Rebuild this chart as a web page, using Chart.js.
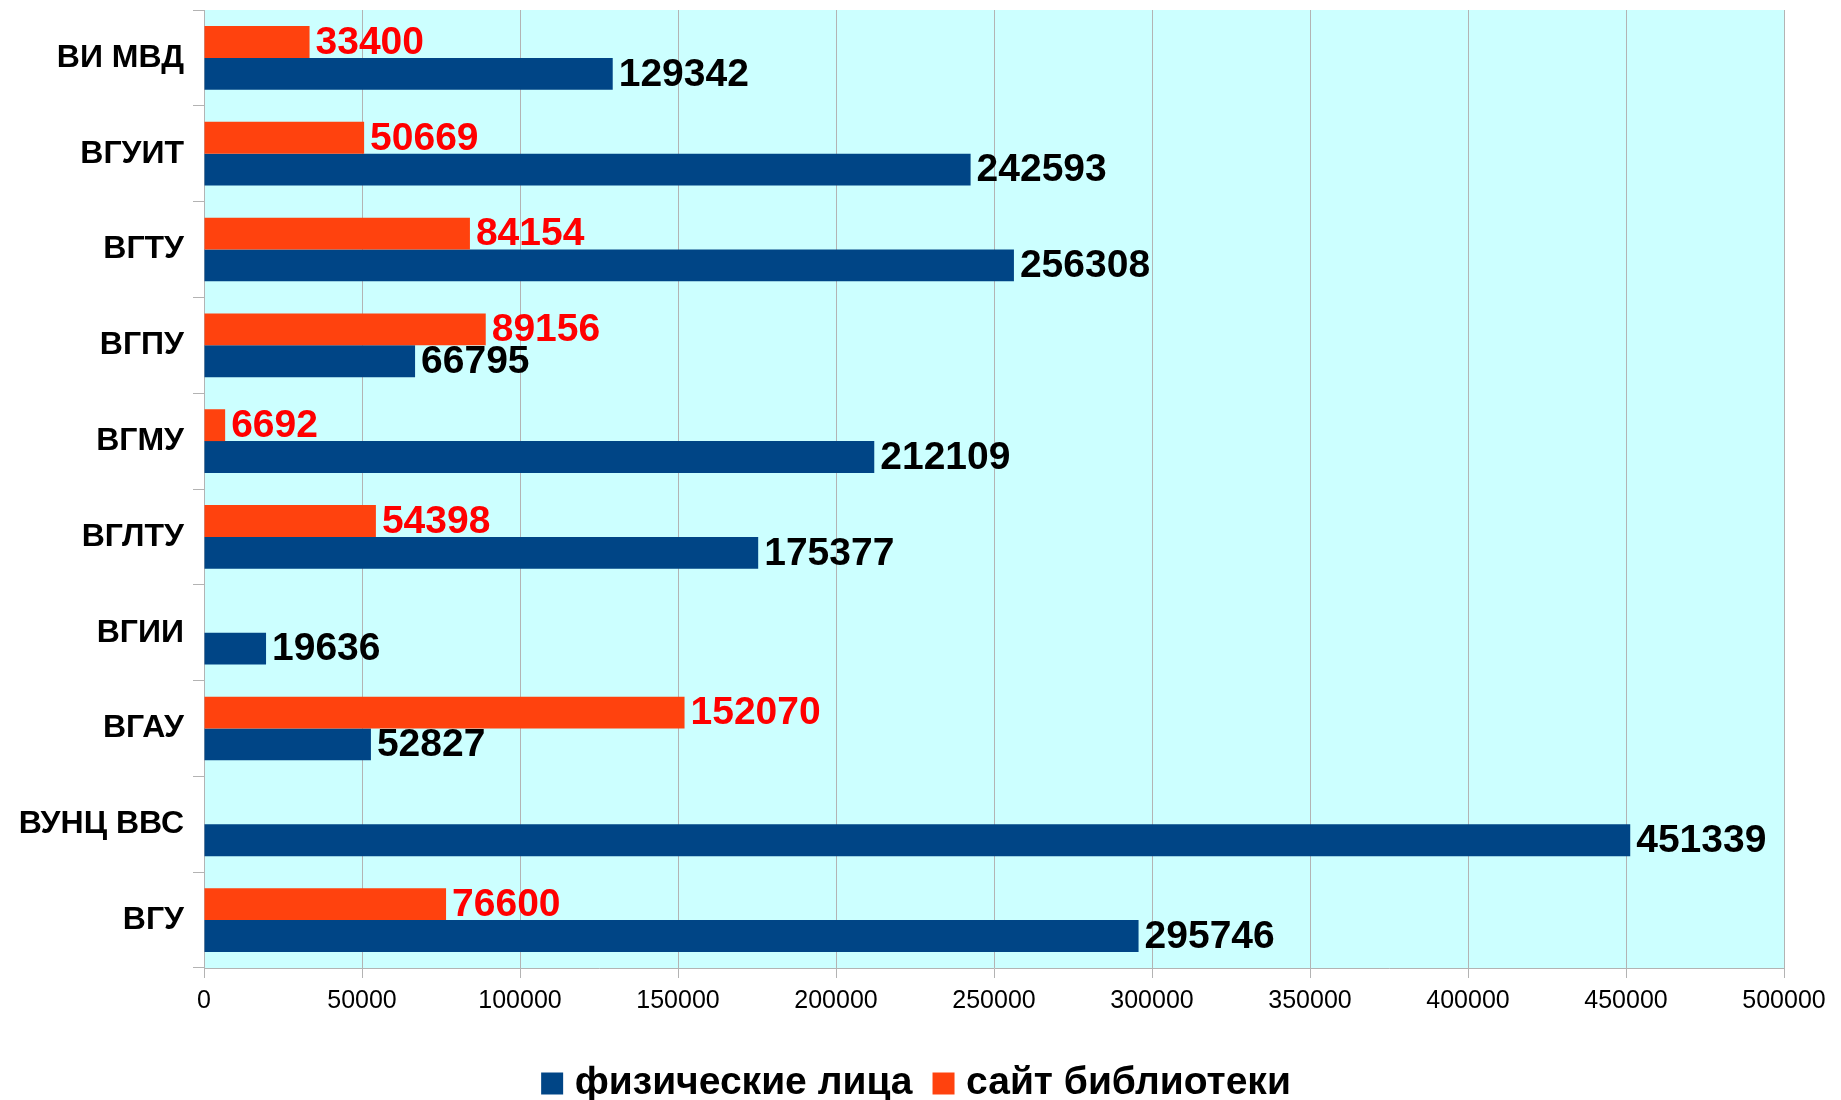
<!DOCTYPE html>
<html>
<head>
<meta charset="utf-8">
<script src="https://cdn.jsdelivr.net/npm/chart.js@4/dist/chart.umd.min.js"></script>
<style>
  html, body { margin: 0; padding: 0; background: #ffffff; }
  #wrap { width: 1841px; height: 1100px; position: relative; }
</style>
</head>
<body>
<div id="wrap"><canvas id="c" width="1841" height="1100"></canvas></div>
<script>
const categories = ['ВИ МВД', 'ВГУИТ', 'ВГТУ', 'ВГПУ', 'ВГМУ', 'ВГЛТУ', 'ВГИИ', 'ВГАУ', 'ВУНЦ ВВС', 'ВГУ'];
const physicalPersons = [129342, 242593, 256308, 66795, 212109, 175377, 19636, 52827, 451339, 295746];
const librarySite = [33400, 50669, 84154, 89156, 6692, 54398, null, 152070, null, 76600];
const seriesNames = ['физические лица', 'сайт библиотеки'];
const xTicks = [0, 50000, 100000, 150000, 200000, 250000, 300000, 350000, 400000, 450000, 500000];

const FONT = "'Liberation Sans', Arial, sans-serif";
const GRID = '#b3b3b3';

const plotBg = {
  id: 'plotBg',
  beforeDraw(chart) {
    const a = chart.chartArea, ctx = chart.ctx;
    ctx.save();
    ctx.fillStyle = '#ccffff';
    ctx.fillRect(a.left, a.top, a.right - a.left, a.bottom - a.top);
    ctx.restore();
  }
};

// centre the legend across the whole canvas rather than the padded area
const legendShift = {
  id: 'legendShift',
  afterLayout(chart) {
    const lg = chart.legend;
    if (!lg) return;
    const dx = 28;
    lg.left += dx; lg.right += dx;
  }
};

const valueLabels = {
  id: 'valueLabels',
  afterDatasetsDraw(chart) {
    const ctx = chart.ctx;
    ctx.save();
    ctx.font = 'bold 39px ' + FONT;
    ctx.textAlign = 'left';
    ctx.textBaseline = 'middle';
    chart.data.datasets.forEach((ds, di) => {
      const meta = chart.getDatasetMeta(di);
      meta.data.forEach((el, i) => {
        const v = ds.data[i];
        if (v === null || v === undefined) return;
        ctx.fillStyle = ds.labelColor;
        ctx.fillText(String(v), el.x + 6, el.y + 1);
      });
    });
    ctx.restore();
  }
};

new Chart(document.getElementById('c'), {
  type: 'bar',
  data: {
    labels: categories,
    datasets: [
      { label: seriesNames[1], data: librarySite, backgroundColor: '#ff420e', labelColor: '#ff0000',
        barPercentage: 1, categoryPercentage: 0.665 },
      { label: seriesNames[0], data: physicalPersons, backgroundColor: '#004586', labelColor: '#000000',
        barPercentage: 1, categoryPercentage: 0.665 }
    ]
  },
  options: {
    indexAxis: 'y',
    responsive: false,
    animation: false,
    layout: { padding: { top: 10, right: 57, left: 0, bottom: -13 } },
    scales: {
      x: {
        min: 0, max: 500000,
        afterBuildTicks(scale) { scale.ticks = xTicks.map(v => ({ value: v })); },
        afterFit(scale) { scale.height = 68; },
        grid: { color: GRID, lineWidth: 1, drawTicks: true, tickLength: 10, tickColor: GRID },
        border: { display: true, color: GRID, width: 1 },
        ticks: { color: '#000000', font: { family: FONT, size: 25 }, padding: 8, maxRotation: 0,
                 callback: (v) => String(v) }
      },
      y: {
        afterFit(scale) { scale.width = 204; scale.paddingTop = 0; scale.paddingBottom = 0; },
        grid: { display: true, drawOnChartArea: false, drawTicks: true, tickLength: 11, color: GRID, offset: true },
        border: { display: true, color: GRID, width: 1 },
        ticks: { color: '#000000', font: { family: FONT, size: 32, weight: 'bold' }, padding: 9 }
      }
    },
    plugins: {
      legend: {
        position: 'bottom',
        reverse: true,
        labels: {
          color: '#000000',
          font: { family: FONT, size: 39, weight: 'bold' },
          usePointStyle: true, pointStyle: 'rect',
          boxWidth: 6, boxHeight: 22, padding: 28
        }
      },
      tooltip: { enabled: false }
    }
  },
  plugins: [plotBg, legendShift, valueLabels]
});
</script>
</body>
</html>
